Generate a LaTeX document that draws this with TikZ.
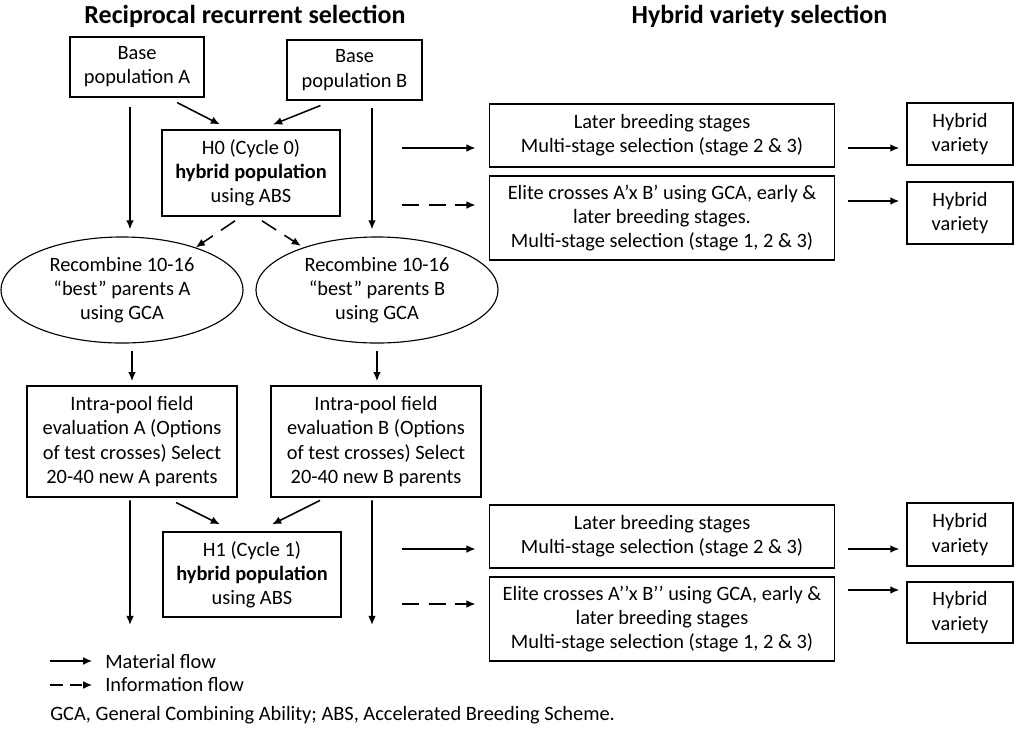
\documentclass[tikz,border=0pt]{standalone}
\usepackage{fontspec}
\setmainfont{Carlito}
\usetikzlibrary{calc, shapes, arrows.meta}

\begin{document}
\begin{tikzpicture}[x=0.025cm, y=-0.025cm,
    font=\fontsize{14.5}{17.2}\selectfont,
    box/.style={draw, line width=0.8pt, align=center, inner sep=0pt},
    oval/.style={draw, ellipse, line width=0.8pt, align=center, inner sep=0pt,
        minimum width=6.05cm, minimum height=2.65cm},
    mat/.style={line width=1.1pt, -{Latex[length=6.5pt, width=5.5pt]}},
    info/.style={mat, dash pattern=on 12pt off 7pt},
    titletext/.style={font=\fontsize{18.5}{22}\selectfont\bfseries}]
    \useasboundingbox (0, 0) rectangle (1021, 733);

    \node[titletext] (titleL) at (245, 16) {Reciprocal recurrent selection};
    \node[titletext] (titleR) at (759.5, 16) {Hybrid variety selection};

    % cycle 0
    \node[box, minimum width=3.35cm, minimum height=1.5cm] (baseA) at (137, 67) {Base\\population A};
    \node[box, minimum width=3.375cm, minimum height=1.5cm] (baseB) at (354.5, 70) {Base\\population B};
    \node[box, minimum width=4.45cm, minimum height=2.15cm] (h0) at (251, 173)
        {H0 (Cycle 0)\\\textbf{hybrid population}\\using ABS};

    \node[oval] (recA) at (122, 290) {Recombine 10-16\\“best” parents A\\using GCA};
    \node[oval] (recB) at (377, 290) {Recombine 10-16\\“best” parents B\\using GCA};

    \node[box, minimum width=5.25cm, minimum height=2.775cm] (intraA) at (132, 441.5)
        {Intra-pool field\\evaluation A (Options\\of test crosses) Select\\20-40 new A parents};
    \node[box, minimum width=5.25cm, minimum height=2.775cm] (intraB) at (376, 441.5)
        {Intra-pool field\\evaluation B (Options\\of test crosses) Select\\20-40 new B parents};

    % cycle 1
    \node[box, minimum width=4.45cm, minimum height=2.125cm] (h1) at (252, 574.5)
        {H1 (Cycle 1)\\\textbf{hybrid population}\\using ABS};

    \draw[mat] ([xshift=1cm, yshift=-3.5pt]baseA.south) -- ([xshift=-0.775cm, yshift=3.5pt]h0.north);
    \draw[mat] ([xshift=-0.85cm, yshift=-3.5pt]baseB.south) -- ([xshift=0.55cm, yshift=3.5pt]h0.north);
    \draw[mat, shorten <=7pt, shorten >=5pt] ([xshift=-0.175cm]baseA.south) -- ([xshift=-0.175cm]baseA.south |- recA.north);
    \draw[mat, shorten <=5pt, shorten >=5pt] ([xshift=0.4375cm]baseB.south) -- ([xshift=0.4375cm]baseB.south |- recB.north);
    \draw[info] ([xshift=-0.4cm, yshift=-3pt]h0.south) -- (recA.30);
    \draw[info, shorten >=2pt] ([xshift=0.275cm, yshift=-3pt]h0.south) -- (recB.150);

    \draw[mat, shorten <=5pt, shorten >=3pt] (intraA.north |- recA.south) -- (intraA.north);
    \draw[mat, shorten <=5pt, shorten >=3pt] (recB.south) -- (recB.south |- intraB.north);

    \draw[mat] ([xshift=1.1cm, yshift=-3.5pt]intraA.south) -- ([xshift=-0.8cm, yshift=5pt]h1.north);
    \draw[mat] ([xshift=-1.4cm, yshift=-2pt]intraB.south) -- ([xshift=0.5cm, yshift=5pt]h1.north);
    \coordinate (endA) at (130, 625);
    \coordinate (endB) at (372, 625);
    \draw[mat, shorten <=2pt] ([xshift=-0.05cm]intraA.south) -- (endA);
    \draw[mat, shorten <=2pt] ([xshift=-0.1cm]intraB.south) -- (endB);

    % hybrid variety side
    \node[box, minimum width=8.625cm, minimum height=1.575cm] (lateA) at (662, 135.5)
        {Later breeding stages\\Multi-stage selection (stage 2 \& 3)};
    \node[box, minimum width=8.625cm, minimum height=2.1cm] (eliteA) at (662, 218)
        {Elite crosses A’x B’ using GCA, early \&\\later breeding stages.\\Multi-stage selection (stage 1, 2 \& 3)};
    \node[box, minimum width=2.65cm, minimum height=1.55cm] (hybA) at (960, 134) {Hybrid\\variety};
    \node[box, minimum width=2.65cm, minimum height=1.55cm] (hybB) at (960, 213) {Hybrid\\variety};

    \node[box, minimum width=8.625cm, minimum height=1.575cm] (lateB) at (662, 536.5)
        {Later breeding stages\\Multi-stage selection (stage 2 \& 3)};
    \node[box, minimum width=8.625cm, minimum height=2.1cm] (eliteB) at (662, 619)
        {Elite crosses A’’x B’’ using GCA, early \&\\later breeding stages\\Multi-stage selection (stage 1, 2 \& 3)};
    \node[box, minimum width=2.65cm, minimum height=1.575cm] (hybC) at (960, 534.5) {Hybrid\\variety};
    \node[box, minimum width=2.65cm, minimum height=1.525cm] (hybD) at (960, 612.5) {Hybrid\\variety};

    \coordinate (fromLateA) at (402, 148);
    \coordinate (fromEliteA) at (402, 205);
    \coordinate (fromLateB) at (402, 549);
    \coordinate (fromEliteB) at (402, 604);
    \coordinate (toHybB) at (0, 201);
    \coordinate (toHybD) at (0, 590);
    \draw[mat, shorten >=9.5pt] (fromLateA) -- (fromLateA -| lateA.west);
    \draw[info, shorten >=9.5pt] (fromEliteA) -- (fromEliteA -| eliteA.west);
    \draw[mat, shorten >=9.5pt] (fromLateB) -- (fromLateB -| lateB.west);
    \draw[info, shorten >=9.5pt] (fromEliteB) -- (fromEliteB -| eliteB.west);

    \draw[mat, shorten <=9pt, shorten >=5pt] (lateA.east |- fromLateA) -- (hybA.west |- fromLateA);
    \draw[mat, shorten <=9pt, shorten >=5pt] (eliteA.east |- toHybB) -- (hybB.west |- toHybB);
    \draw[mat, shorten <=9pt, shorten >=5pt] (lateB.east |- fromLateB) -- (hybC.west |- fromLateB);
    \draw[mat, shorten <=9pt, shorten >=5pt] (eliteB.east |- toHybD) -- (hybD.west |- toHybD);

    % legend
    \node[anchor=west, inner sep=0pt] (matLbl) at (105, 661) {Material flow};
    \node[anchor=west, inner sep=0pt] (infoLbl) at (105, 685) {Information flow};
    \coordinate (matStart) at (50, 661);
    \coordinate (infoStart) at (50, 685);
    \draw[mat, shorten >=9pt] (matStart) -- (matLbl.west);
    \draw[mat, dash pattern=on 9pt off 5pt, shorten >=9pt] (infoStart) -- (infoLbl.west);
    \node[anchor=west, inner sep=0pt] (note) at (50, 715)
        {GCA, General Combining Ability; ABS, Accelerated Breeding Scheme.};
\end{tikzpicture}
\end{document}
